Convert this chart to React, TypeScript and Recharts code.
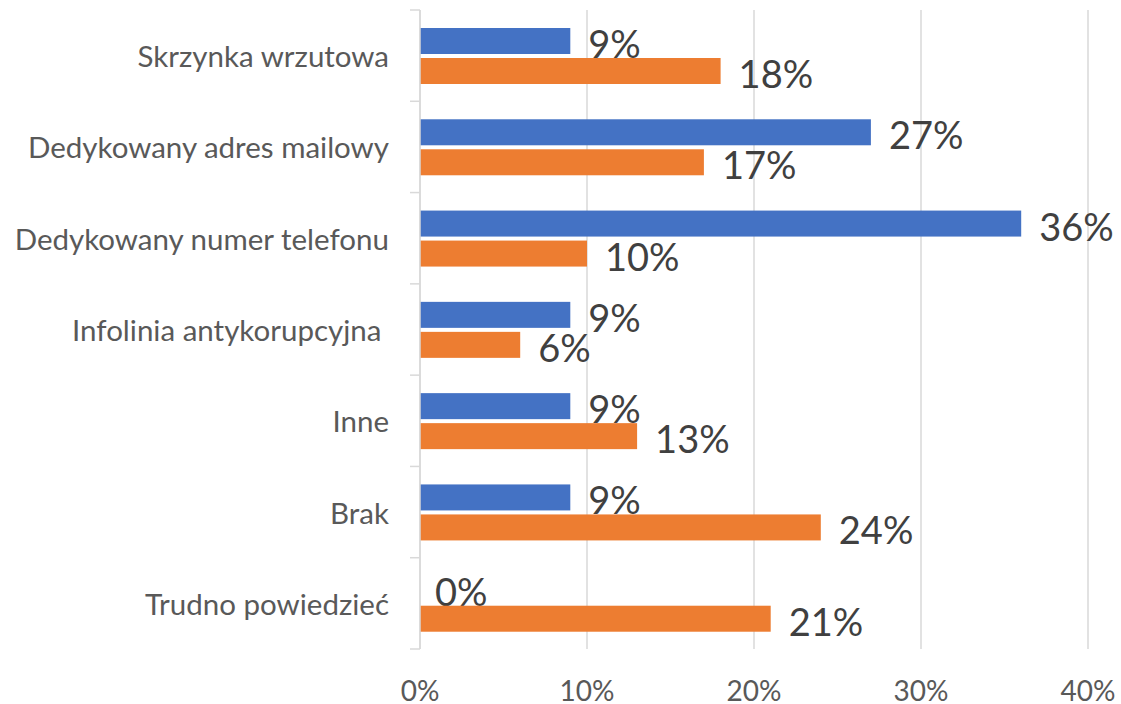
import { BarChart, Bar, XAxis, YAxis, CartesianGrid } from "recharts";

const CATEGORIES = [
  "Skrzynka wrzutowa",
  "Dedykowany adres mailowy",
  "Dedykowany numer telefonu",
  "Infolinia antykorupcyjna ",
  "Inne",
  "Brak",
  "Trudno powiedzieć",
];
const BLUE_VALUES = [9, 27, 36, 9, 9, 9, 0];
const ORANGE_VALUES = [18, 17, 10, 6, 13, 24, 21];
const X_TICKS = [0, 10, 20, 30, 40];

const rows = CATEGORIES.map((name, i) => ({
  name,
  blue: BLUE_VALUES[i],
  orange: ORANGE_VALUES[i],
}));

const FONT = "Lato, 'Open Sans', sans-serif";
const AXIS_X = 420;
const GRID = "#d9d9d9";

function CategoryTick(props: any) {
  const { y, payload, index, visibleTicksCount } = props;
  const half = payload?.offset ?? 45.6;
  const isLast = index === visibleTicksCount - 1;
  return (
    <g>
      <line x1={AXIS_X - 10} x2={AXIS_X} y1={y - half} y2={y - half} stroke={GRID} strokeWidth={1.5} />
      {isLast && (
        <line x1={AXIS_X - 10} x2={AXIS_X} y1={y + half} y2={y + half} stroke={GRID} strokeWidth={1.5} />
      )}
      <text
        x={389}
        y={y}
        textAnchor="end"
        dominantBaseline="central"
        fill="#595959"
        fontSize={29.5}
        fontFamily={FONT}
        style={{ whiteSpace: "pre" }}
      >
        {payload.value}
      </text>
    </g>
  );
}

function PercentTick(props: any) {
  const { x, payload } = props;
  return (
    <text x={x} y={690} textAnchor="middle" dominantBaseline="central" fill="#595959" fontSize={28} fontFamily={FONT}>
      {payload.value}%
    </text>
  );
}

// bar + its value label drawn together, so zero-length bars still get "0%"
function BarWithLabel(props: any) {
  const { x, y, width, height, fill, value } = props;
  const v = Array.isArray(value) ? value[1] - value[0] : value;
  const w = Math.max(0, width || 0);
  return (
    <g>
      {w > 0 && <rect x={x} y={y} width={w} height={height} fill={fill} />}
      <text
        x={x + w + (w > 0 ? 18 : 15)}
        y={y + height / 2 + 2}
        dominantBaseline="central"
        fill="#404040"
        fontSize={38}
        fontFamily={FONT}
      >
        {v}%
      </text>
    </g>
  );
}

export default function App() {
  return (
    <div style={{ position: "absolute", left: 0, top: 0, background: "#fff" }}>
      <BarChart
        width={1121}
        height={704}
        data={rows}
        layout="vertical"
        margin={{ top: 10, right: 33, bottom: 0, left: 0 }}
        barSize={26}
        barGap={4}
      >
        <CartesianGrid horizontal={false} stroke={GRID} strokeWidth={1.5} />
        <XAxis
          type="number"
          domain={[0, 40]}
          ticks={X_TICKS}
          height={55}
          axisLine={false}
          tickLine={false}
          tick={<PercentTick />}
          interval={0}
        />
        <YAxis
          type="category"
          dataKey="name"
          width={420}
          axisLine={{ stroke: GRID, strokeWidth: 1.5 }}
          tickLine={false}
          tick={<CategoryTick />}
          interval={0}
        />
        <Bar dataKey="blue" fill="#4472c4" isAnimationActive={false} shape={<BarWithLabel />} />
        <Bar dataKey="orange" fill="#ed7d31" isAnimationActive={false} shape={<BarWithLabel />} />
      </BarChart>
    </div>
  );
}
